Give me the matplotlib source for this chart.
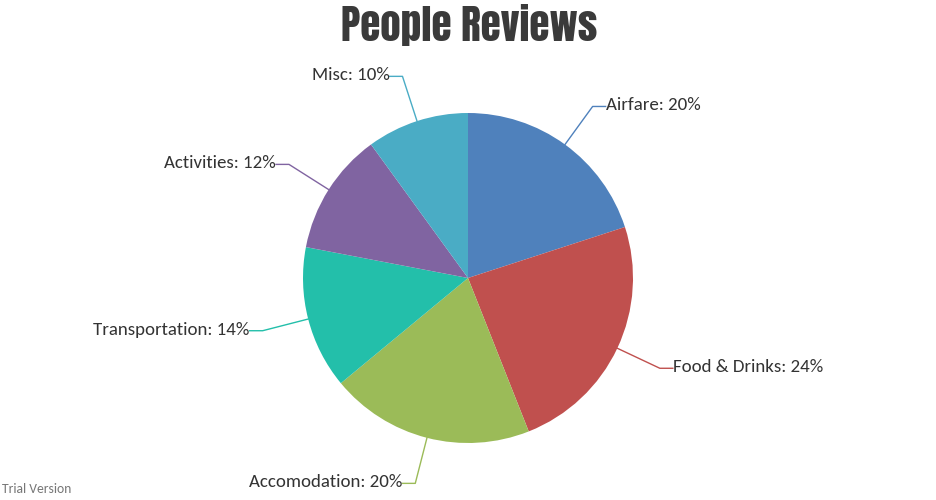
import numpy as np
import matplotlib
matplotlib.use("Agg")
import matplotlib.pyplot as plt

labels = ["Airfare", "Food & Drinks", "Accomodation", "Transportation", "Activities", "Misc"]
values = [20, 24, 20, 14, 12, 10]
colors = ["#4F81BC", "#C0504E", "#9BBB58", "#23BFAA", "#8064A1", "#4AACC5"]

LABEL_FONT = ["Carlito", "Lato", "DejaVu Sans"]
TITLE_FONT = ["Anton", "Oswald", "DejaVu Sans"]


def main():
    fig = plt.figure(figsize=(9.37, 5.0), dpi=100)
    ax = fig.add_axes([0, 0, 1, 1])

    cx, cy, r = 468, 222, 165
    wedges, _ = ax.pie(values, colors=colors, startangle=90, counterclock=False,
                       center=(cx, cy), radius=r,
                       wedgeprops=dict(linewidth=0.5, edgecolor="none"))

    total = float(sum(values))
    start = 0.0
    for w, lab, v, c in zip(wedges, labels, values, colors):
        mid = np.radians(start + v / total * 360 / 2)
        start += v / total * 360
        sx, sy = np.sin(mid), np.cos(mid)
        x0, y0 = cx + r * sx, cy + r * sy
        x1, y1 = cx + 1.285 * r * sx, cy + 1.285 * r * sy
        side = 1 if sx >= 0 else -1
        x2 = x1 + side * 13
        ax.plot([x0, x1, x2], [y0, y1, y1], color=c, lw=1)
        ax.text(x2, y1 + 1, f"{lab}: {v}%", ha="left" if side > 0 else "right",
                va="center", fontsize=13.6, family=LABEL_FONT, color="#333333")

    ax.set_xlim(0, 937)
    ax.set_ylim(0, 500)
    ax.set_aspect("auto")
    ax.axis("off")

    fig.text(469 / 937, 1 - 25 / 500, "People Reviews", ha="center", va="center",
             fontsize=29.5, family=TITLE_FONT, color="#3A3A3A")
    fig.text(2 / 937, 1 - 489 / 500, "Trial Version", ha="left", va="center",
             fontsize=9.8, family=LABEL_FONT, color="#777777")

    fig.savefig("out.png", dpi=100)


if __name__ == "__main__":
    main()
